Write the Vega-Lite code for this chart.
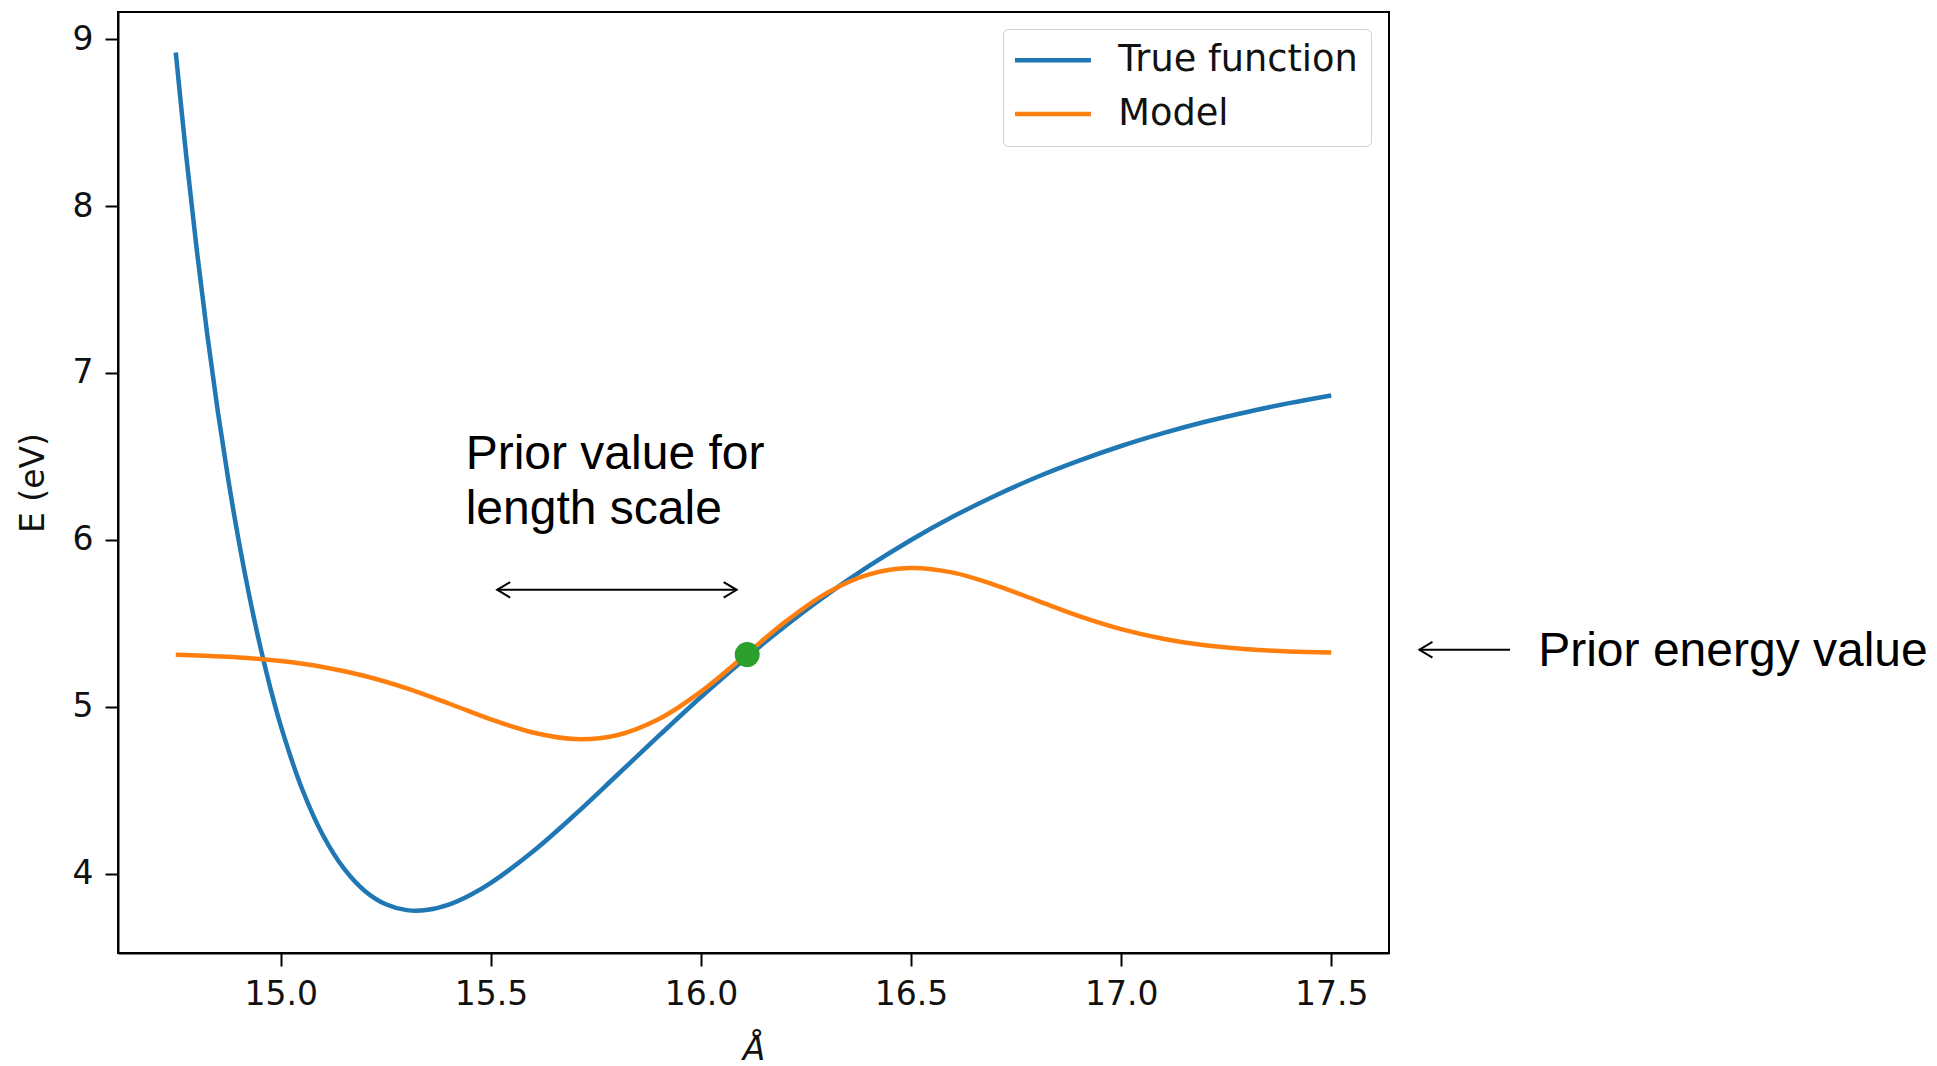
{
  "$schema": "https://vega.github.io/schema/vega-lite/v6.json",
  "width": 1271,
  "height": 941,
  "autosize": {"type": "none"},
  "padding": {"left": 118, "top": 12, "right": 548, "bottom": 113},
  "background": "white",
  "config": {
    "view": {"stroke": "black", "strokeWidth": 2},
    "axis": {
      "grid": false,
      "domainColor": "black",
      "domainWidth": 2,
      "tickColor": "black",
      "tickWidth": 2,
      "tickSize": 13,
      "labelFont": "DejaVu Sans",
      "labelFontSize": 33,
      "labelColor": "#111111",
      "labelPadding": 12,
      "titleFont": "DejaVu Sans",
      "titleFontSize": 33,
      "titleFontWeight": "normal",
      "titleColor": "#111111"
    },
    "legend": {
      "orient": "none",
      "legendX": 885,
      "legendY": 17,
      "padding": 13,
      "fillColor": "white",
      "strokeColor": "#d0d0d0",
      "cornerRadius": 5,
      "labelFont": "DejaVu Sans",
      "labelFontSize": 36.7,
      "labelColor": "#111111",
      "labelLimit": 400,
      "symbolType": "M-4,0L4,0",
      "symbolSize": 361,
      "symbolStrokeWidth": 4.5,
      "symbolOffset": 18.6,
      "labelOffset": 47,
      "rowPadding": 15.6
    }
  },
  "datasets": {
    "curves": [
      {"x": 14.75, "E": 8.920, "series": "True function"},
      {"x": 14.775, "E": 8.298, "series": "True function"},
      {"x": 14.80, "E": 7.736, "series": "True function"},
      {"x": 14.825, "E": 7.228, "series": "True function"},
      {"x": 14.85, "E": 6.770, "series": "True function"},
      {"x": 14.875, "E": 6.360, "series": "True function"},
      {"x": 14.90, "E": 5.992, "series": "True function"},
      {"x": 14.925, "E": 5.664, "series": "True function"},
      {"x": 14.95, "E": 5.372, "series": "True function"},
      {"x": 14.975, "E": 5.113, "series": "True function"},
      {"x": 15.00, "E": 4.885, "series": "True function"},
      {"x": 15.05, "E": 4.511, "series": "True function"},
      {"x": 15.10, "E": 4.231, "series": "True function"},
      {"x": 15.15, "E": 4.031, "series": "True function"},
      {"x": 15.20, "E": 3.896, "series": "True function"},
      {"x": 15.25, "E": 3.816, "series": "True function"},
      {"x": 15.30, "E": 3.781, "series": "True function"},
      {"x": 15.35, "E": 3.783, "series": "True function"},
      {"x": 15.40, "E": 3.814, "series": "True function"},
      {"x": 15.45, "E": 3.870, "series": "True function"},
      {"x": 15.50, "E": 3.944, "series": "True function"},
      {"x": 15.60, "E": 4.132, "series": "True function"},
      {"x": 15.70, "E": 4.353, "series": "True function"},
      {"x": 15.80, "E": 4.589, "series": "True function"},
      {"x": 15.90, "E": 4.826, "series": "True function"},
      {"x": 16.00, "E": 5.058, "series": "True function"},
      {"x": 16.10, "E": 5.277, "series": "True function"},
      {"x": 16.20, "E": 5.482, "series": "True function"},
      {"x": 16.30, "E": 5.671, "series": "True function"},
      {"x": 16.40, "E": 5.843, "series": "True function"},
      {"x": 16.50, "E": 5.999, "series": "True function"},
      {"x": 16.60, "E": 6.139, "series": "True function"},
      {"x": 16.70, "E": 6.264, "series": "True function"},
      {"x": 16.80, "E": 6.376, "series": "True function"},
      {"x": 16.90, "E": 6.474, "series": "True function"},
      {"x": 17.00, "E": 6.562, "series": "True function"},
      {"x": 17.10, "E": 6.639, "series": "True function"},
      {"x": 17.20, "E": 6.707, "series": "True function"},
      {"x": 17.30, "E": 6.766, "series": "True function"},
      {"x": 17.40, "E": 6.819, "series": "True function"},
      {"x": 17.50, "E": 6.865, "series": "True function"},
      {"x": 14.75, "E": 5.311, "series": "Model"},
      {"x": 14.90, "E": 5.295, "series": "Model"},
      {"x": 15.00, "E": 5.274, "series": "Model"},
      {"x": 15.10, "E": 5.238, "series": "Model"},
      {"x": 15.20, "E": 5.184, "series": "Model"},
      {"x": 15.30, "E": 5.110, "series": "Model"},
      {"x": 15.40, "E": 5.019, "series": "Model"},
      {"x": 15.50, "E": 4.924, "series": "Model"},
      {"x": 15.60, "E": 4.845, "series": "Model"},
      {"x": 15.70, "E": 4.806, "series": "Model"},
      {"x": 15.80, "E": 4.829, "series": "Model"},
      {"x": 15.90, "E": 4.926, "series": "Model"},
      {"x": 16.00, "E": 5.090, "series": "Model"},
      {"x": 16.11, "E": 5.318, "series": "Model"},
      {"x": 16.20, "E": 5.507, "series": "Model"},
      {"x": 16.30, "E": 5.682, "series": "Model"},
      {"x": 16.40, "E": 5.793, "series": "Model"},
      {"x": 16.50, "E": 5.831, "series": "Model"},
      {"x": 16.60, "E": 5.803, "series": "Model"},
      {"x": 16.70, "E": 5.729, "series": "Model"},
      {"x": 16.80, "E": 5.636, "series": "Model"},
      {"x": 16.90, "E": 5.543, "series": "Model"},
      {"x": 17.00, "E": 5.465, "series": "Model"},
      {"x": 17.10, "E": 5.407, "series": "Model"},
      {"x": 17.20, "E": 5.368, "series": "Model"},
      {"x": 17.30, "E": 5.344, "series": "Model"},
      {"x": 17.40, "E": 5.331, "series": "Model"},
      {"x": 17.50, "E": 5.324, "series": "Model"}
    ],
    "dot": [{"x": 16.11, "E": 5.312}],
    "notes": [
      {"x": 15.44, "E": 6.425, "label": "Prior value for"},
      {"x": 15.44, "E": 6.095, "label": "length scale"},
      {"x": 17.9926, "E": 5.246, "label": "Prior energy value"}
    ],
    "arrows": [
      {"name": "length", "x": 15.515, "x2": 16.085, "E": 5.700},
      {"name": "energy", "x": 17.710, "x2": 17.9255, "E": 5.341}
    ]
  },
  "layer": [
    {
      "data": {"name": "curves"},
      "transform": [{"filter": "datum.series === 'True function'"}],
      "mark": {"type": "line", "strokeWidth": 4.5, "interpolate": "catmull-rom"},
      "encoding": {
        "x": {"field": "x", "type": "quantitative",
              "scale": {"domain": [14.6125, 17.6375], "nice": false, "zero": false},
              "axis": {"values": [15, 15.5, 16, 16.5, 17, 17.5], "format": ".1f", "title": "Å", "titleFontStyle": "italic", "titlePadding": 22}},
        "y": {"field": "E", "type": "quantitative",
              "scale": {"domain": [3.524, 9.1625], "nice": false, "zero": false},
              "axis": {"values": [4, 5, 6, 7, 8, 9], "format": "d", "title": "E (eV)", "titlePadding": 22}},
        "color": {"field": "series", "type": "nominal",
                  "scale": {"domain": ["True function", "Model"], "range": ["#1f77b4", "#ff7f0e"]},
                  "legend": {"title": null}}
      }
    },
    {
      "data": {"name": "curves"},
      "transform": [{"filter": "datum.series === 'Model'"}],
      "mark": {"type": "line", "strokeWidth": 4.5, "interpolate": "catmull-rom"},
      "encoding": {
        "x": {"field": "x", "type": "quantitative"},
        "y": {"field": "E", "type": "quantitative"},
        "color": {"field": "series", "type": "nominal"}
      }
    },
    {
      "data": {"name": "dot"},
      "mark": {"type": "circle", "size": 625, "color": "#2ca02c", "opacity": 1},
      "encoding": {
        "x": {"field": "x", "type": "quantitative"},
        "y": {"field": "E", "type": "quantitative"}
      }
    },
    {
      "data": {"name": "arrows"},
      "mark": {"type": "rule", "color": "black", "strokeWidth": 2},
      "encoding": {
        "x": {"field": "x", "type": "quantitative"},
        "x2": {"field": "x2"},
        "y": {"field": "E", "type": "quantitative"}
      }
    },
    {
      "data": {"name": "arrows"},
      "mark": {"type": "point", "shape": "M1,-0.6L0,0L1,0.6", "size": 676, "filled": false, "color": "black", "strokeWidth": 2, "opacity": 1},
      "encoding": {
        "x": {"field": "x", "type": "quantitative"},
        "y": {"field": "E", "type": "quantitative"}
      }
    },
    {
      "data": {"name": "arrows"},
      "transform": [{"filter": "datum.name === 'length'"}],
      "mark": {"type": "point", "shape": "M-1,-0.6L0,0L-1,0.6", "size": 676, "filled": false, "color": "black", "strokeWidth": 2, "opacity": 1},
      "encoding": {
        "x": {"field": "x2", "type": "quantitative"},
        "y": {"field": "E", "type": "quantitative"}
      }
    },
    {
      "data": {"name": "notes"},
      "mark": {"type": "text", "font": "Liberation Sans", "fontSize": 48, "align": "left", "baseline": "alphabetic", "color": "black"},
      "encoding": {
        "x": {"field": "x", "type": "quantitative"},
        "y": {"field": "E", "type": "quantitative"},
        "text": {"field": "label"}
      }
    }
  ]
}
